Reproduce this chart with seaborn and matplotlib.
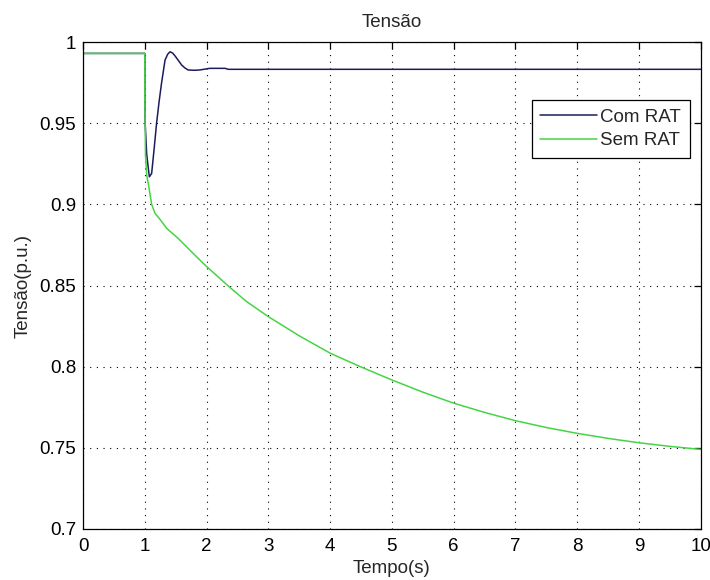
import numpy as np
import pandas as pd
import matplotlib
matplotlib.use("Agg")
import matplotlib.pyplot as plt
import seaborn as sns

# Tempo (s) e tensão (p.u.) - com regulador automático de tensão
t_com = [0, 1.0, 1.0, 1.005, 1.03, 1.06, 1.073, 1.11, 1.15, 1.19, 1.23, 1.27,
         1.327, 1.37, 1.408, 1.45, 1.49, 1.54, 1.597, 1.65, 1.70, 1.80, 1.89,
         2.0, 2.05, 2.3, 2.35, 10.0]
v_com = [0.993, 0.993, 0.966, 0.95, 0.931, 0.921, 0.917, 0.919, 0.934, 0.950,
         0.963, 0.9746, 0.9889, 0.9925, 0.994, 0.9932, 0.9914, 0.9888, 0.9858,
         0.984, 0.9828, 0.9826, 0.9828, 0.9835, 0.9838, 0.9838, 0.9832, 0.9832]

# Tempo (s) e tensão (p.u.) - sem regulador
t_sem = [0, 1.0, 1.0, 1.005, 1.01, 1.03, 1.06, 1.11, 1.165, 1.25, 1.354, 1.54,
         1.75, 1.974, 2.35, 2.65, 3.0, 3.5, 4.0, 4.5, 5.0, 5.5, 6.0, 6.5, 7.0,
         7.5, 8.0, 8.5, 9.0, 9.5, 10.0]
v_sem = [0.993, 0.993, 0.966, 0.95, 0.931, 0.918, 0.912, 0.900, 0.8945, 0.8905,
         0.8852, 0.879, 0.871, 0.8626, 0.8497, 0.840, 0.8308, 0.819, 0.8083,
         0.7998, 0.7918, 0.7843, 0.7775, 0.7718, 0.7667, 0.7625, 0.7589, 0.7558,
         0.7531, 0.7509, 0.749]

series = ["Com RAT", "Sem RAT"]
x_ticks = list(range(0, 11))
y_ticks = [0.7, 0.75, 0.8, 0.85, 0.9, 0.95, 1.0]
y_tick_labels = ["0.7", "0.75", "0.8", "0.85", "0.9", "0.95", "1"]

df = pd.concat([
    pd.DataFrame({"Tempo": t_com, "Tensao": v_com, "Serie": series[0]}),
    pd.DataFrame({"Tempo": t_sem, "Tensao": v_sem, "Serie": series[1]}),
], ignore_index=True)

sns.set_style("white")
plt.rcParams["font.family"] = ["Liberation Sans", "DejaVu Sans"]

FS = 13.5

fig = plt.figure(figsize=(7.1, 5.8), dpi=100)
ax = fig.add_axes([0.117, 0.088, 0.870, 0.8395])

palette = {"Com RAT": "#1c1c5c", "Sem RAT": "#45d445"}
sns.lineplot(data=df, x="Tempo", y="Tensao", hue="Serie", palette=palette,
             estimator=None, sort=False, linewidth=1.1, ax=ax)

ax.set_xlim(0, 10)
ax.set_ylim(0.7, 1.0)
ax.set_xticks(x_ticks)
ax.set_xticklabels([str(v) for v in x_ticks])
ax.set_yticks(y_ticks)
ax.set_yticklabels(y_tick_labels)

ax.grid(True, color="black", linestyle=(0, (1, 5)), linewidth=0.8)
for s in ax.spines.values():
    s.set_visible(True)
    s.set_color("black")
    s.set_linewidth(0.9)

ax.tick_params(direction="in", length=5, width=0.9, top=True, right=True,
               labelsize=FS, colors="black")
ax.tick_params(axis="x", pad=6.5)
ax.tick_params(axis="y", pad=5)

ax.set_title("Tensão", fontsize=FS, pad=11)
ax.set_xlabel("Tempo(s)", fontsize=FS)
ax.set_ylabel("Tensão(p.u.)", fontsize=FS)
ax.xaxis.set_label_coords(0.5, -0.064)
ax.yaxis.set_label_coords(-0.083, 0.5)

leg = ax.legend(loc="upper right", bbox_to_anchor=(0.982, 0.881),
                borderaxespad=0, fontsize=FS, frameon=True, fancybox=False,
                edgecolor="black", framealpha=1, borderpad=0.45,
                handlelength=3.0, labelspacing=0.35, handletextpad=0.2)
leg.get_frame().set_linewidth(0.9)
leg.set_title(None)

fig.savefig("out.png", dpi=100, facecolor="white")
